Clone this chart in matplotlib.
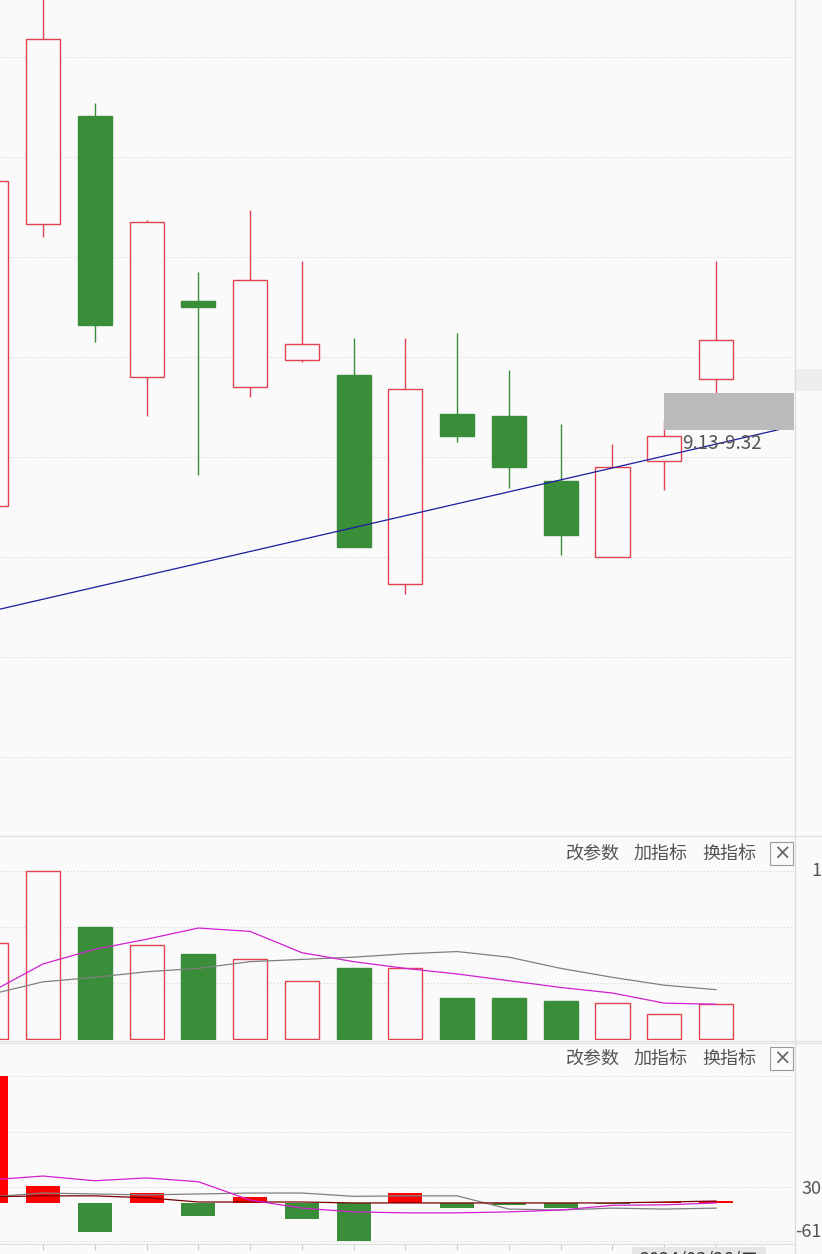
import numpy as np
import matplotlib.pyplot as plt
from matplotlib.patches import Rectangle
from matplotlib.lines import Line2D
import matplotlib.transforms as mtransforms

plt.rcParams['font.family'] = ['Noto Sans CJK SC', 'DejaVu Sans']

# ---------------- data ----------------
opens  = [8.74, 10.19, 10.74, 9.40, 9.79, 9.35, 9.49, 9.41, 8.34, 9.21, 9.20, 8.87, 8.48, 8.97, 9.39]
closes = [10.41, 11.14, 9.67, 10.20, 9.76, 9.90, 9.57, 8.53, 9.34, 9.10, 8.94, 8.59, 8.94, 9.10, 9.59]
highs  = [10.45, 11.45, 10.81, 10.21, 9.94, 10.26, 10.00, 9.60, 9.60, 9.63, 9.44, 9.16, 9.06, 9.18, 10.00]
lows   = [8.70, 10.12, 9.58, 9.20, 8.90, 9.30, 9.48, 8.53, 8.29, 9.07, 8.83, 8.49, 8.48, 8.82, 9.32]

trend_x = [0.17, 15.51]
trend_y = [8.21, 9.15]
zone_low, zone_high = 9.13, 9.32
zone_label = "9.13-9.32"

volume   = [0.86, 1.50, 1.00, 0.84, 0.76, 0.71, 0.52, 0.63, 0.63, 0.37, 0.37, 0.34, 0.32, 0.22, 0.31]
vol_ma5  = [0.42, 0.67, 0.80, 0.89, 0.99, 0.96, 0.77, 0.69, 0.63, 0.58, 0.52, 0.46, 0.41, 0.32, 0.31]
vol_ma10 = [0.40, 0.51, 0.55, 0.60, 0.63, 0.69, 0.71, 0.73, 0.76, 0.78, 0.73, 0.63, 0.55, 0.48, 0.44]

macd_hist  = [270, 37, -60, 22, -27, 14, -33, -80, 22, -10, -3, -10, -1, 2, 5]
macd_dif   = [14, 16, 16, 12, 3, 3, 3, 1, 1, 1, 1, 1, 1, 3, 5]
macd_dea   = [14, 22, 20, 18, 20, 22, 22, 15, 16, 16, -12, -14, -10, -12, -10]
macd_third = [50, 58, 48, 54, 46, 7, -10, -18, -20, -20, -18, -14, -4, -3, 1]

main_grid = [11.045, 10.532, 10.018, 9.505, 8.991, 8.478, 7.964, 7.451]
vol_grid = [0.5, 1.0, 1.5]
macd_grid = [270, 152, 35, -80]

vol_axis_label = "1"
macd_axis_labels = [(30, "30"), (-61, "-61")]
buttons = ["改参数", "加指标", "换指标"]
date_text = "2024/03/26/二"

# ---------------- style ----------------
W, H = 822, 1254
BG = '#fafafa'
RED = '#e0434f'
GREEN = '#3a8e3a'
GRID = '#d4d4d4'
TXT = '#555555'
x = np.arange(len(opens))
bw = 0.657
xlim = (0.169, 15.506)
plot_w = 794 / W

fig = plt.figure(figsize=(W / 100, H / 100), dpi=100, facecolor=BG)

ax = fig.add_axes([0, 1 - 835 / H, plot_w, 835 / H], facecolor=BG)
ax_v = fig.add_axes([0, 1 - 1040 / H, plot_w, 205 / H], facecolor=BG)
ax_m = fig.add_axes([0, 1 - 1244 / H, plot_w, 202 / H], facecolor=BG)

for a in (ax, ax_v, ax_m):
    for s in a.spines.values():
        s.set_visible(False)
    a.set_yticks([])
    a.set_xticks([])

# ---------------- main candles ----------------
for g in main_grid:
    ax.axhline(g, color=GRID, lw=0.8, ls=(0, (1, 2)), zorder=0)

for i in x:
    up = closes[i] >= opens[i]
    c = RED if up else GREEN
    ax.vlines(i, lows[i], highs[i], color=c, lw=1.0, zorder=2)
    lo, hi = min(opens[i], closes[i]), max(opens[i], closes[i])
    ax.bar(i, hi - lo, bottom=lo, width=bw, facecolor=BG if up else GREEN,
           edgecolor=c, lw=1.0, zorder=3)

ax.plot(trend_x, trend_y, color='#1c1ca0', lw=0.9, zorder=4)
ax.add_patch(Rectangle((13.0, zone_low), xlim[1] - 13.0, zone_high - zone_low,
                       facecolor='#bbbbbb', edgecolor='none', zorder=5))
ax.text(13.34, 9.063, zone_label, fontsize=13.5, color=TXT, va='center', ha='left', zorder=6)
ax.set_ylim(7.05, 11.338)

# price tag box on the right axis
tr = mtransforms.blended_transform_factory(ax.transAxes, ax.transData)
ax.add_patch(Rectangle((1.0, 9.33), 28 / 794, 0.115, transform=tr, clip_on=False,
                       facecolor='#eeeeee', edgecolor='none'))

# ---------------- volume ----------------
for g in vol_grid:
    ax_v.axhline(g, color=GRID, lw=0.8, ls=(0, (1, 2)), zorder=0)
for i in x:
    up = closes[i] >= opens[i]
    ax_v.bar(i, volume[i], width=bw, facecolor=BG if up else GREEN,
             edgecolor=RED if up else GREEN, lw=1.0, zorder=2)
ax_v.plot(x, vol_ma10, color='#808080', lw=0.9, zorder=3)
ax_v.plot(x, vol_ma5, color='#d020d0', lw=0.9, zorder=4)
ax_v.set_ylim(-0.009, 1.82)
trv = mtransforms.blended_transform_factory(ax_v.transAxes, ax_v.transData)
ax_v.text(821 / 794, 1.5, vol_axis_label, transform=trv, fontsize=13, color=TXT,
          va='center', ha='right', clip_on=False)

# ---------------- MACD ----------------
for g in macd_grid:
    ax_m.axhline(g, color=GRID, lw=0.8, ls=(0, (1, 2)), zorder=0)
hist_colors = ['#ff0000' if v >= 0 else GREEN for v in macd_hist]
ax_m.bar(x, macd_hist, width=bw, color=hist_colors, zorder=2)
ax_m.plot(x, macd_dea, color='#808080', lw=0.9, zorder=3)
ax_m.plot(x, macd_dif, color='#7a0000', lw=0.9, zorder=4)
ax_m.plot(x, macd_third, color='#d020d0', lw=0.9, zorder=5)
ax_m.set_ylim(-86, 342)
trm = mtransforms.blended_transform_factory(ax_m.transAxes, ax_m.transData)
for val, lab in macd_axis_labels:
    ax_m.text(821 / 794, val, lab, transform=trm, fontsize=13, color=TXT,
              va='center', ha='right', clip_on=False)

ax_m.spines['bottom'].set_visible(True)
ax_m.spines['bottom'].set_color('#dddddd')
ax_m.set_xticks(x)
ax_m.set_xticklabels([])
ax_m.tick_params(axis='x', direction='out', length=4, color='#cccccc', width=0.8)

# fix the x range after the ticks are set
for a in (ax, ax_v, ax_m):
    a.set_xlim(*xlim)

# ---------------- frame lines and panel buttons ----------------
def hline_px(y, color='#e2e2e2'):
    fig.add_artist(Line2D([0, 1], [1 - y / H, 1 - y / H], transform=fig.transFigure,
                          color=color, lw=1.0))

hline_px(835.5)
hline_px(1040.5)
hline_px(1042.5)
fig.add_artist(Line2D([794.5 / W, 794.5 / W], [0, 1], transform=fig.transFigure,
                      color='#dedede', lw=1.0))


def panel_buttons(y_px):
    for label, xc in zip(buttons, [593, 661, 729.5]):
        fig.text(xc / W, 1 - y_px / H, label, ha='center', va='center',
                 fontsize=13, color=TXT)
    fig.add_artist(Rectangle((770 / W, 1 - (y_px + 11.5) / H), 23 / W, 23 / H,
                             transform=fig.transFigure, fill=True, facecolor=BG,
                             edgecolor='#9a9a9a', lw=0.8))
    fig.text(781.5 / W, 1 - (y_px + 0.5) / H, '×', ha='center', va='center',
             fontsize=15, color='#666666', family='DejaVu Sans')


panel_buttons(853.5)
panel_buttons(1058.5)

# date box at the bottom (cut by the figure edge, as in the screenshot)
fig.add_artist(Rectangle((632 / W, 0), 134 / W, 7 / H, transform=fig.transFigure,
                         facecolor='#e6e6e6', edgecolor='none'))
fig.text(699 / W, 1 - 1250 / H, date_text, ha='center', va='top', fontsize=13, color='#333333')

fig.savefig("out.png", dpi=100, facecolor=BG)
